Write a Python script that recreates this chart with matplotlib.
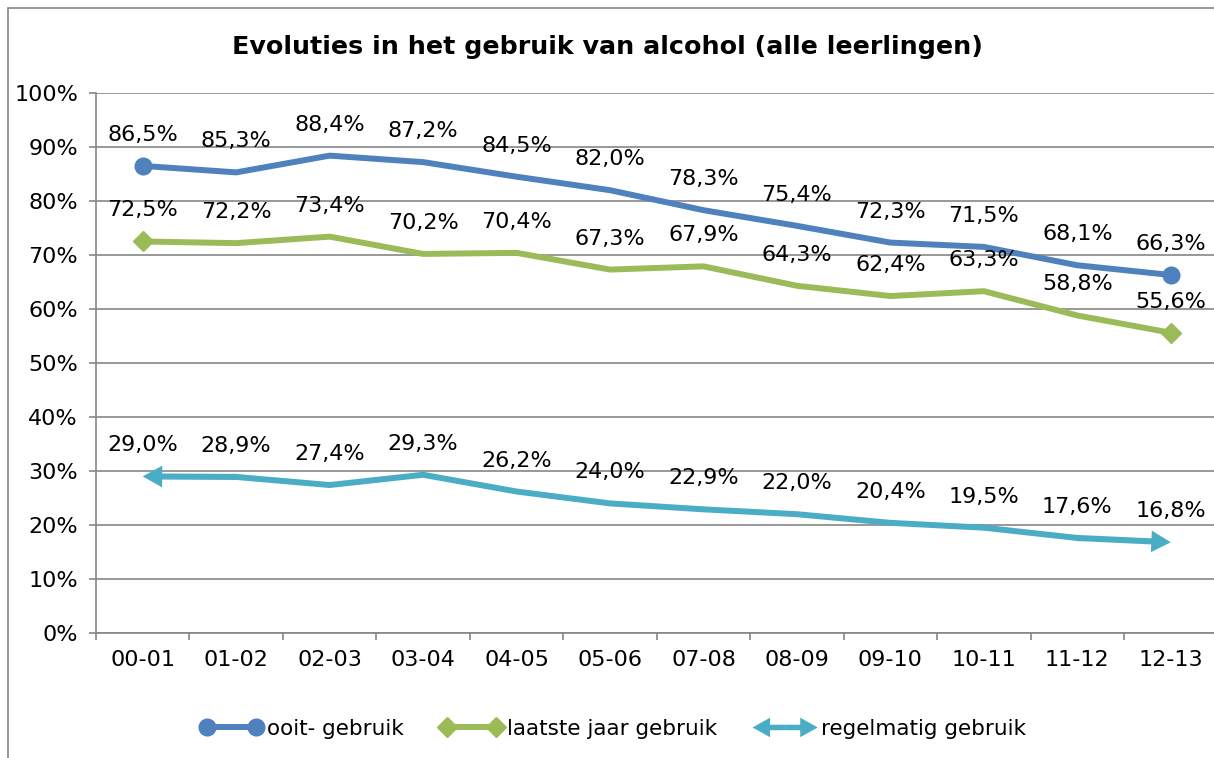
import matplotlib
matplotlib.use("Agg")
import matplotlib.pyplot as plt
from matplotlib.lines import Line2D
from matplotlib.patches import FancyArrowPatch, Rectangle
from matplotlib.legend_handler import HandlerBase
from matplotlib.ticker import FixedLocator, PercentFormatter

# data
years = ["00-01", "01-02", "02-03", "03-04", "04-05", "05-06",
         "07-08", "08-09", "09-10", "10-11", "11-12", "12-13"]
ooit = [86.5, 85.3, 88.4, 87.2, 84.5, 82.0, 78.3, 75.4, 72.3, 71.5, 68.1, 66.3]
laatste_jaar = [72.5, 72.2, 73.4, 70.2, 70.4, 67.3, 67.9, 64.3, 62.4, 63.3, 58.8, 55.6]
regelmatig = [29.0, 28.9, 27.4, 29.3, 26.2, 24.0, 22.9, 22.0, 20.4, 19.5, 17.6, 16.8]
names = ["ooit- gebruik", "laatste jaar gebruik", "regelmatig gebruik"]

BLUE = "#4F81BD"
GREEN = "#9BBB59"
CYAN = "#4BACC6"
GRID = "#868686"
FS = 16

ARROW = "simple,head_length=0.7,head_width=0.78,tail_width=0.22"


class ArrowHandler(HandlerBase):
    # double headed arrow for the legend
    def create_artists(self, legend, orig_handle, xdescent, ydescent,
                       width, height, fontsize, trans):
        y = height / 2 - ydescent
        mid = -xdescent + width / 2
        out = []
        for end in (-xdescent - 1, -xdescent + width + 1):
            p = FancyArrowPatch((mid, y), (end, y), arrowstyle=ARROW,
                                mutation_scale=18, color=CYAN, lw=0,
                                shrinkA=0, shrinkB=0, transform=trans)
            out.append(p)
        return out


fig = plt.figure(figsize=(12.14, 7.58), dpi=100)
fig.patches.append(Rectangle((8 / 1214, -0.1), 1.2, 1 - 8 / 758 + 0.1,
                             transform=fig.transFigure, fill=False,
                             edgecolor=GRID, lw=1.2))

ax = fig.add_axes([96 / 1214, 125 / 758, 1121.5 / 1214, 540 / 758])
x = list(range(len(years)))

ax.plot(x, ooit, color=BLUE, lw=4.3, marker="o", markersize=12,
        markevery=[0, len(x) - 1], solid_joinstyle="round", zorder=3)
ax.plot(x, laatste_jaar, color=GREEN, lw=4.3, marker="D", markersize=10,
        markevery=[0, len(x) - 1], solid_joinstyle="round", zorder=3)
ax.plot(x[1:-1], regelmatig[1:-1], color=CYAN, lw=4.3,
        solid_joinstyle="round", zorder=3)
arrow_kw = dict(arrowstyle=ARROW, mutation_scale=20, color=CYAN, lw=0,
                shrinkA=0, shrinkB=0)
ax.annotate("", xy=(x[0], regelmatig[0]), xytext=(x[1], regelmatig[1]),
            arrowprops=arrow_kw, zorder=3)
ax.annotate("", xy=(x[-1], regelmatig[-1]), xytext=(x[-2], regelmatig[-2]),
            arrowprops=arrow_kw, zorder=3)

for series in (ooit, laatste_jaar, regelmatig):
    for xi, v in zip(x, series):
        ax.annotate(f"{v:.1f}%".replace(".", ","), (xi, v),
                    xytext=(0, 31), textcoords="offset pixels",
                    ha="center", va="center", fontsize=FS, zorder=4)

ax.set_xlim(-0.5, len(x) - 0.5)
ax.set_ylim(0, 100)
ax.set_yticks(range(0, 101, 10))
ax.yaxis.set_major_formatter(PercentFormatter(decimals=0))
ax.set_xticks(x)
ax.set_xticklabels(years)
ax.xaxis.set_minor_locator(FixedLocator([i - 0.5 for i in range(len(x) + 1)]))
ax.tick_params(axis="x", which="major", length=0, pad=12, labelsize=FS)
ax.tick_params(axis="x", which="minor", length=5, width=1.2, color=GRID)
ax.tick_params(axis="y", length=5, width=1.2, color=GRID, pad=8, labelsize=FS)
ax.grid(axis="y", color=GRID, lw=1.2)
ax.set_axisbelow(True)
for s in ("top", "right"):
    ax.spines[s].set_visible(False)
for s in ("left", "bottom"):
    ax.spines[s].set_color(GRID)
    ax.spines[s].set_linewidth(1.2)

fig.text(0.5, 1 - 47 / 758, "Evoluties in het gebruik van alcohol (alle leerlingen)",
         ha="center", va="center", fontsize=18.3, fontweight="bold")

h1 = Line2D([], [], color=BLUE, lw=4.3, marker="o", markersize=12)
h2 = Line2D([], [], color=GREEN, lw=4.3, marker="D", markersize=10)
h3 = Line2D([], [], color=CYAN, lw=4.3)
fig.legend([h1, h2, h3], names, loc="center",
           bbox_to_anchor=(0.5 + 6 / 1214, 29 / 758),
           ncol=3, frameon=False, fontsize=15.5, numpoints=2, handlelength=2.9,
           handletextpad=0.2, columnspacing=1.7, handler_map={h3: ArrowHandler()})

fig.savefig("out.png", dpi=100)
